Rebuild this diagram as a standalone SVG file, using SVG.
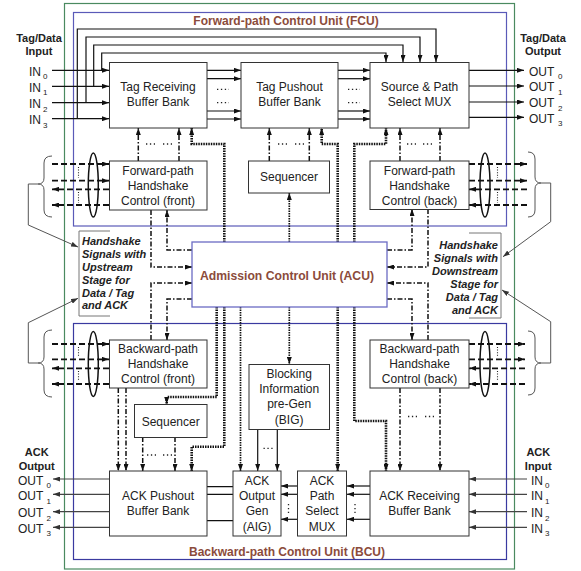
<svg xmlns="http://www.w3.org/2000/svg" width="581" height="571" viewBox="0 0 581 571">
<style>
.box{fill:#fff;stroke:#333;stroke-width:1}
.t{font-family:"Liberation Sans",Arial,sans-serif;font-size:12px;fill:#222;text-anchor:middle}
.lb{font-family:"Liberation Sans",Arial,sans-serif;font-size:11px;font-weight:bold;fill:#222;text-anchor:middle}
.io{font-family:"Liberation Sans",Arial,sans-serif;font-size:12px;fill:#222}
.sub{font-size:8px}
.hs{font-family:"Liberation Sans",Arial,sans-serif;font-size:11px;font-weight:bold;font-style:italic;fill:#222}
.ttl{font-family:"Liberation Sans",Arial,sans-serif;font-size:12px;font-weight:bold;fill:#8b4b3b;text-anchor:middle}
.dd{stroke:#111;stroke-width:1.5;stroke-dasharray:5 2 1.5 2;fill:none}
.dash{stroke:#111;stroke-width:1.8;stroke-dasharray:6 3;fill:none}
.tdot{stroke:#111;stroke-width:2.6;stroke-dasharray:1.5 1;fill:none}
.dot{stroke:#111;stroke-width:1.7;stroke-dasharray:1.5 1;fill:none}
.sl{stroke:#111;stroke-width:1.2;fill:none}
.gl{stroke:#444;stroke-width:1.2;fill:none}
.fine{stroke:#222;stroke-width:1.1;stroke-dasharray:1 1.6;fill:none}
.pts{stroke:#222;stroke-width:1.3;stroke-dasharray:1.3 2.6;fill:none}
.br{stroke:#555;stroke-width:1;fill:none}
.brk{stroke:#777;stroke-width:1;fill:none}
</style>
<defs>
<marker id="ah" markerUnits="userSpaceOnUse" markerWidth="7" markerHeight="5" refX="7" refY="2.5" orient="auto">
<path d="M0,0 L7,2.5 L0,5 z" fill="#111"/>
</marker>
<marker id="ag" markerUnits="userSpaceOnUse" markerWidth="7" markerHeight="5" refX="7" refY="2.5" orient="auto">
<path d="M0,0 L7,2.5 L0,5 z" fill="#333"/>
</marker>
</defs>
<rect width="581" height="571" fill="#fff"/>

<g id="containers">
<rect x="64.5" y="3.5" width="450" height="565.5" fill="none" stroke="#4a8a60" stroke-width="1.2"/>
<rect x="73.5" y="12.5" width="433" height="213.5" fill="none" stroke="#5a5ab8" stroke-width="1.2"/>
<rect x="73.5" y="323.5" width="433" height="236" fill="none" stroke="#3a3aa0" stroke-width="1.2"/>
<text class="ttl" x="286" y="25">Forward-path Control Unit (FCU)</text>
<text class="ttl" x="287" y="556">Backward-path Control Unit (BCU)</text>
</g>

<g id="connectors">
<path class="sl" d="M52,70.3 H109" marker-end="url(#ah)"/>
<path class="sl" d="M52,86.3 H109" marker-end="url(#ah)"/>
<path class="sl" d="M52,102.7 H109" marker-end="url(#ah)"/>
<path class="sl" d="M52,118.7 H109" marker-end="url(#ah)"/>
<path class="sl" d="M77.3,118.7 V29 H436 V62" marker-end="url(#ah)"/>
<path class="sl" d="M86,102.7 V37 H420 V62" marker-end="url(#ah)"/>
<path class="sl" d="M93.7,86.3 V45 H403 V62" marker-end="url(#ah)"/>
<path class="sl" d="M101.7,70.3 V53 H386 V62" marker-end="url(#ah)"/>
<path class="sl" d="M207,70.3 H241" marker-end="url(#ah)"/>
<path class="sl" d="M207,78.7 H241" marker-end="url(#ah)"/>
<path class="sl" d="M207,111 H241" marker-end="url(#ah)"/>
<path class="sl" d="M207,119 H241" marker-end="url(#ah)"/>
<path class="pts" d="M217,89.3 H229 M217,102.7 H229"/>
<path class="sl" d="M338,70.3 H370" marker-end="url(#ah)"/>
<path class="sl" d="M338,78.7 H370" marker-end="url(#ah)"/>
<path class="sl" d="M338,111 H370" marker-end="url(#ah)"/>
<path class="sl" d="M338,119 H370" marker-end="url(#ah)"/>
<path class="pts" d="M348,89.3 H360 M348,102.7 H360"/>
<path class="sl" d="M469,70.3 H524" marker-end="url(#ah)"/>
<path class="sl" d="M469,86 H524" marker-end="url(#ah)"/>
<path class="sl" d="M469,102 H524" marker-end="url(#ah)"/>
<path class="sl" d="M469,117.3 H524" marker-end="url(#ah)"/>

<path class="dash" d="M52,164 H109" marker-end="url(#ah)"/>
<path class="dash" d="M52,180.7 H109" marker-end="url(#ah)"/>
<path class="dash" d="M109,189.3 H52" marker-end="url(#ah)"/>
<path class="dash" d="M109,205 H52" marker-end="url(#ah)"/>
<ellipse cx="93.3" cy="185" rx="5" ry="32" fill="none" stroke="#111" stroke-width="1.5"/>
<path class="fine" d="M78.5,167 V178 M78.5,192 V203"/>
<path class="dash" d="M469,164 H527" marker-end="url(#ah)"/>
<path class="dash" d="M469,180.7 H527" marker-end="url(#ah)"/>
<path class="dash" d="M527,189.3 H469" marker-end="url(#ah)"/>
<path class="dash" d="M527,205 H469" marker-end="url(#ah)"/>
<ellipse cx="485" cy="185" rx="5" ry="32" fill="none" stroke="#111" stroke-width="1.5"/>
<path class="fine" d="M497.5,167 V178 M497.5,192 V203"/>
<path class="dash" d="M52,344 H109" marker-end="url(#ah)"/>
<path class="dash" d="M52,359.3 H109" marker-end="url(#ah)"/>
<path class="dash" d="M109,368.3 H52" marker-end="url(#ah)"/>
<path class="dash" d="M109,384 H52" marker-end="url(#ah)"/>
<ellipse cx="93.3" cy="364" rx="5" ry="32.5" fill="none" stroke="#111" stroke-width="1.5"/>
<path class="fine" d="M78.5,347 V357 M78.5,371 V381"/>
<path class="dash" d="M469,344 H525" marker-end="url(#ah)"/>
<path class="dash" d="M469,359.3 H525" marker-end="url(#ah)"/>
<path class="dash" d="M525,368.3 H469" marker-end="url(#ah)"/>
<path class="dash" d="M525,384 H469" marker-end="url(#ah)"/>
<ellipse cx="485" cy="364" rx="5" ry="32.5" fill="none" stroke="#111" stroke-width="1.5"/>
<path class="fine" d="M497.5,347 V357 M497.5,371 V381"/>

<path class="br" d="M52,156 Q44,156 44,163 L44,178 Q44,184 38,184 Q44,184 44,190 L44,210 Q44,217 52,217"/>
<path class="br" d="M52,330 Q44,330 44,337 L44,357 Q44,363 38,363 Q44,363 44,369 L44,390 Q44,397 52,397"/>
<path class="br" d="M528,152 Q535,152 535,159 L535,177 Q535,183 541,183 Q535,183 535,189 L535,210 Q535,217 528,217"/>
<path class="br" d="M528,331 Q535,331 535,338 L535,357 Q535,363 541,363 Q535,363 535,369 L535,388 Q535,395 528,395"/>
<path class="br" d="M38,184 H28.3 V225 L78,247" marker-end="url(#ag)"/>
<path class="br" d="M38,363 H28.3 V322.7 L78,298.3" marker-end="url(#ag)"/>
<path class="br" d="M541,183 H550.7 V221.7 L503,256.7" marker-end="url(#ag)"/>
<path class="br" d="M541,363 H550.7 V321.7 L502,290" marker-end="url(#ag)"/>
<path class="brk" d="M110,231 H79 V316 H110"/>
<path class="brk" d="M469,233 H501 V318 H469"/>

<path class="dd" d="M138.3,161 V128" marker-end="url(#ah)"/>
<path class="dd" d="M179,161 V128" marker-end="url(#ah)"/>
<path class="pts" d="M146,144 H155 M163,144 H172"/>
<path class="dd" d="M269.3,161 V128" marker-end="url(#ah)"/>
<path class="dd" d="M309.3,161 V128" marker-end="url(#ah)"/>
<path class="pts" d="M278,144 H287 M295,144 H304"/>
<path class="dd" d="M400,161 V128" marker-end="url(#ah)"/>
<path class="dd" d="M440,161 V128" marker-end="url(#ah)"/>
<path class="pts" d="M407,144 H416 M423,144 H432"/>

<path class="tdot" d="M224.3,242 V144 H191.7 V128" marker-end="url(#ah)"/>
<path class="tdot" d="M337.7,242 V144 H321.7 V128" marker-end="url(#ah)"/>
<path class="tdot" d="M354.3,242 V144 H386 V128" marker-end="url(#ah)"/>
<path class="dot" d="M289.3,242 V193" marker-end="url(#ah)"/>

<path class="dd" d="M151,210 V267 H192" marker-end="url(#ah)"/>
<path class="dd" d="M192,250 H167 V210" marker-end="url(#ah)"/>
<path class="dd" d="M151,340 V283 H192" marker-end="url(#ah)"/>
<path class="dd" d="M192,299 H167 V340" marker-end="url(#ah)"/>
<path class="dd" d="M387,250 H412 V209" marker-end="url(#ah)"/>
<path class="dd" d="M428,209 V267 H387" marker-end="url(#ah)"/>
<path class="dd" d="M428,340 V283 H387" marker-end="url(#ah)"/>
<path class="dd" d="M387,299 H412 V340" marker-end="url(#ah)"/>

<path class="tdot" d="M216.7,307 V397 H166.7 V404" marker-end="url(#ah)"/>
<path class="tdot" d="M224.3,307 V446.7 H191.7 V471" marker-end="url(#ah)"/>
<path class="dot" d="M240.5,307 V471" marker-end="url(#ah)"/>
<path class="dot" d="M289.3,307 V364" marker-end="url(#ah)"/>
<path class="tdot" d="M337.7,307 V471" marker-end="url(#ah)"/>
<path class="tdot" d="M354.3,307 V421 H386 V471" marker-end="url(#ah)"/>

<path class="dd" d="M118.3,388 V471" marker-end="url(#ah)"/>
<path class="dd" d="M126,388 V471" marker-end="url(#ah)"/>
<path class="dd" d="M142.7,437 V471" marker-end="url(#ah)"/>
<path class="dd" d="M175,437 V471" marker-end="url(#ah)"/>
<path class="pts" d="M147,455 H156 M163,455 H172"/>
<path class="dd" d="M400,388 V471" marker-end="url(#ah)"/>
<path class="dd" d="M440,388 V471" marker-end="url(#ah)"/>
<path class="pts" d="M408,416.5 H417 M425,416.5 H434"/>

<path class="sl" d="M257.7,429 V471" marker-end="url(#ah)"/>
<path class="sl" d="M277.3,429 V471" marker-end="url(#ah)"/>
<path class="pts" d="M263.5,448.3 H273"/>

<path class="sl" d="M233,486.7 H207 M233,494.3 H207 M233,520.7 H207"/>
<path class="sl" d="M297,486 H281" marker-end="url(#ah)"/>
<path class="sl" d="M297,494.3 H281" marker-end="url(#ah)"/>
<path class="sl" d="M297,519.3 H281" marker-end="url(#ah)"/>
<path class="pts" d="M288.5,504 V514"/>
<path class="sl" d="M370,486 H347" marker-end="url(#ah)"/>
<path class="sl" d="M370,494.3 H347" marker-end="url(#ah)"/>
<path class="sl" d="M370,519.3 H347" marker-end="url(#ah)"/>
<path class="pts" d="M355,504 V514"/>
<path class="gl" d="M109,479 H53" marker-end="url(#ag)"/>
<path class="gl" d="M109,494.3 H53" marker-end="url(#ag)"/>
<path class="gl" d="M109,511.7 H53" marker-end="url(#ag)"/>
<path class="gl" d="M109,527.3 H53" marker-end="url(#ag)"/>
<path class="gl" d="M527,479 H469" marker-end="url(#ag)"/>
<path class="gl" d="M527,494.3 H469" marker-end="url(#ag)"/>
<path class="gl" d="M527,511.7 H469" marker-end="url(#ag)"/>
<path class="gl" d="M527,527.3 H469" marker-end="url(#ag)"/>
</g>

<g id="labels">
<text class="lb" x="39" y="42">Tag/Data</text>
<text class="lb" x="39" y="55">Input</text>
<text class="io" x="29" y="75.5">IN<tspan class="sub" x="43" dy="3.5">0</tspan></text>
<text class="io" x="29" y="91.5">IN<tspan class="sub" x="43" dy="3.5">1</tspan></text>
<text class="io" x="29" y="108">IN<tspan class="sub" x="43" dy="3.5">2</tspan></text>
<text class="io" x="29" y="124">IN<tspan class="sub" x="43" dy="3.5">3</tspan></text>
<text class="lb" x="543" y="42">Tag/Data</text>
<text class="lb" x="543" y="55">Output</text>
<text class="io" x="529" y="75.5">OUT<tspan class="sub" x="558" dy="3.5">0</tspan></text>
<text class="io" x="529" y="91">OUT<tspan class="sub" x="558" dy="3.5">1</tspan></text>
<text class="io" x="529" y="107">OUT<tspan class="sub" x="558" dy="3.5">2</tspan></text>
<text class="io" x="529" y="122.5">OUT<tspan class="sub" x="558" dy="3.5">3</tspan></text>
<text class="lb" x="36.7" y="455.7">ACK</text>
<text class="lb" x="36.7" y="469.7">Output</text>
<text class="io" x="18" y="484.5">OUT<tspan class="sub" x="46.5" dy="3.5">0</tspan></text>
<text class="io" x="18" y="500">OUT<tspan class="sub" x="46.5" dy="3.5">1</tspan></text>
<text class="io" x="18" y="517">OUT<tspan class="sub" x="46.5" dy="3.5">2</tspan></text>
<text class="io" x="18" y="532.5">OUT<tspan class="sub" x="46.5" dy="3.5">3</tspan></text>
<text class="lb" x="538.3" y="456.3">ACK</text>
<text class="lb" x="538.3" y="469.5">Input</text>
<text class="io" x="531" y="484.5">IN<tspan class="sub" x="545" dy="3.5">0</tspan></text>
<text class="io" x="531" y="500">IN<tspan class="sub" x="545" dy="3.5">1</tspan></text>
<text class="io" x="531" y="517">IN<tspan class="sub" x="545" dy="3.5">2</tspan></text>
<text class="io" x="531" y="532.5">IN<tspan class="sub" x="545" dy="3.5">3</tspan></text>
</g>

<g id="hs-upstream">
<text class="hs" x="82" y="245">Handshake</text>
<text class="hs" x="82" y="257.8">Signals with</text>
<text class="hs" x="82" y="271">Upstream</text>
<text class="hs" x="82" y="284">Stage for</text>
<text class="hs" x="82" y="296.5">Data / Tag</text>
<text class="hs" x="82" y="309">and ACK</text>
</g>
<g id="hs-downstream" style="text-anchor:end">
<text class="hs" x="498" y="249">Handshake</text>
<text class="hs" x="498" y="261.5">Signals with</text>
<text class="hs" x="498" y="274.7">Downstream</text>
<text class="hs" x="498" y="287.5">Stage for</text>
<text class="hs" x="498" y="300.7">Data / Tag</text>
<text class="hs" x="498" y="314">and ACK</text>
</g>

<g id="tag-receiving">
<rect class="box" x="109.5" y="62.5" width="97.5" height="65.5"/>
<text class="t" x="158" y="91">Tag Receiving</text>
<text class="t" x="158" y="106">Buffer Bank</text>
</g>
<g id="tag-pushout">
<rect class="box" x="241" y="62.5" width="97" height="65.5"/>
<text class="t" x="289.5" y="91">Tag Pushout</text>
<text class="t" x="289.5" y="106">Buffer Bank</text>
</g>
<g id="source-path-mux">
<rect class="box" x="370" y="62.5" width="99" height="65.5"/>
<text class="t" x="419.5" y="91">Source &amp; Path</text>
<text class="t" x="419.5" y="106">Select MUX</text>
</g>
<g id="fhc-front">
<rect class="box" x="109.5" y="161" width="97.5" height="49"/>
<text class="t" x="158" y="174.5">Forward-path</text>
<text class="t" x="158" y="189.5">Handshake</text>
<text class="t" x="158" y="204.5">Control (front)</text>
</g>
<g id="sequencer-top">
<rect class="box" x="248.5" y="161" width="81" height="32"/>
<text class="t" x="289" y="181">Sequencer</text>
</g>
<g id="fhc-back">
<rect class="box" x="370" y="161" width="99" height="48.5"/>
<text class="t" x="419.5" y="174.5">Forward-path</text>
<text class="t" x="419.5" y="189.5">Handshake</text>
<text class="t" x="419.5" y="204.5">Control (back)</text>
</g>
<g id="acu">
<rect x="192" y="242" width="195" height="65" fill="#fff" stroke="#6b6bc4" stroke-width="1.3"/>
<text class="ttl" x="287" y="279.5" style="font-size:12.2px">Admission Control Unit (ACU)</text>
</g>
<g id="bhc-front">
<rect class="box" x="109.5" y="340" width="97.5" height="48"/>
<text class="t" x="158" y="353.3">Backward-path</text>
<text class="t" x="158" y="368.3">Handshake</text>
<text class="t" x="158" y="383.3">Control (front)</text>
</g>
<g id="bhc-back">
<rect class="box" x="370" y="340" width="99" height="48"/>
<text class="t" x="419.5" y="353.3">Backward-path</text>
<text class="t" x="419.5" y="368.3">Handshake</text>
<text class="t" x="419.5" y="383.3">Control (back)</text>
</g>
<g id="sequencer-bottom">
<rect class="box" x="134.5" y="404.5" width="72.5" height="33"/>
<text class="t" x="170.7" y="426">Sequencer</text>
</g>
<g id="big">
<rect class="box" x="249" y="364.5" width="80.5" height="65"/>
<text class="t" x="289.2" y="377.6">Blocking</text>
<text class="t" x="289.2" y="393">Information</text>
<text class="t" x="289.2" y="408.3">pre-Gen</text>
<text class="t" x="289.2" y="423.6">(BIG)</text>
</g>
<g id="ack-pushout">
<rect class="box" x="109.5" y="471" width="97.5" height="65"/>
<text class="t" x="158" y="500">ACK Pushout</text>
<text class="t" x="158" y="515">Buffer Bank</text>
</g>
<g id="aig">
<rect class="box" x="233" y="471" width="48" height="65"/>
<text class="t" x="257" y="485">ACK</text>
<text class="t" x="257" y="500">Output</text>
<text class="t" x="257" y="515">Gen</text>
<text class="t" x="257" y="531">(AIG)</text>
</g>
<g id="ack-path-mux">
<rect class="box" x="297.5" y="471" width="49" height="65"/>
<text class="t" x="322" y="485">ACK</text>
<text class="t" x="322" y="500">Path</text>
<text class="t" x="322" y="515">Select</text>
<text class="t" x="322" y="531">MUX</text>
</g>
<g id="ack-receiving">
<rect class="box" x="370" y="471" width="99" height="65"/>
<text class="t" x="419.5" y="500">ACK Receiving</text>
<text class="t" x="419.5" y="515">Buffer Bank</text>
</g>
</svg>
